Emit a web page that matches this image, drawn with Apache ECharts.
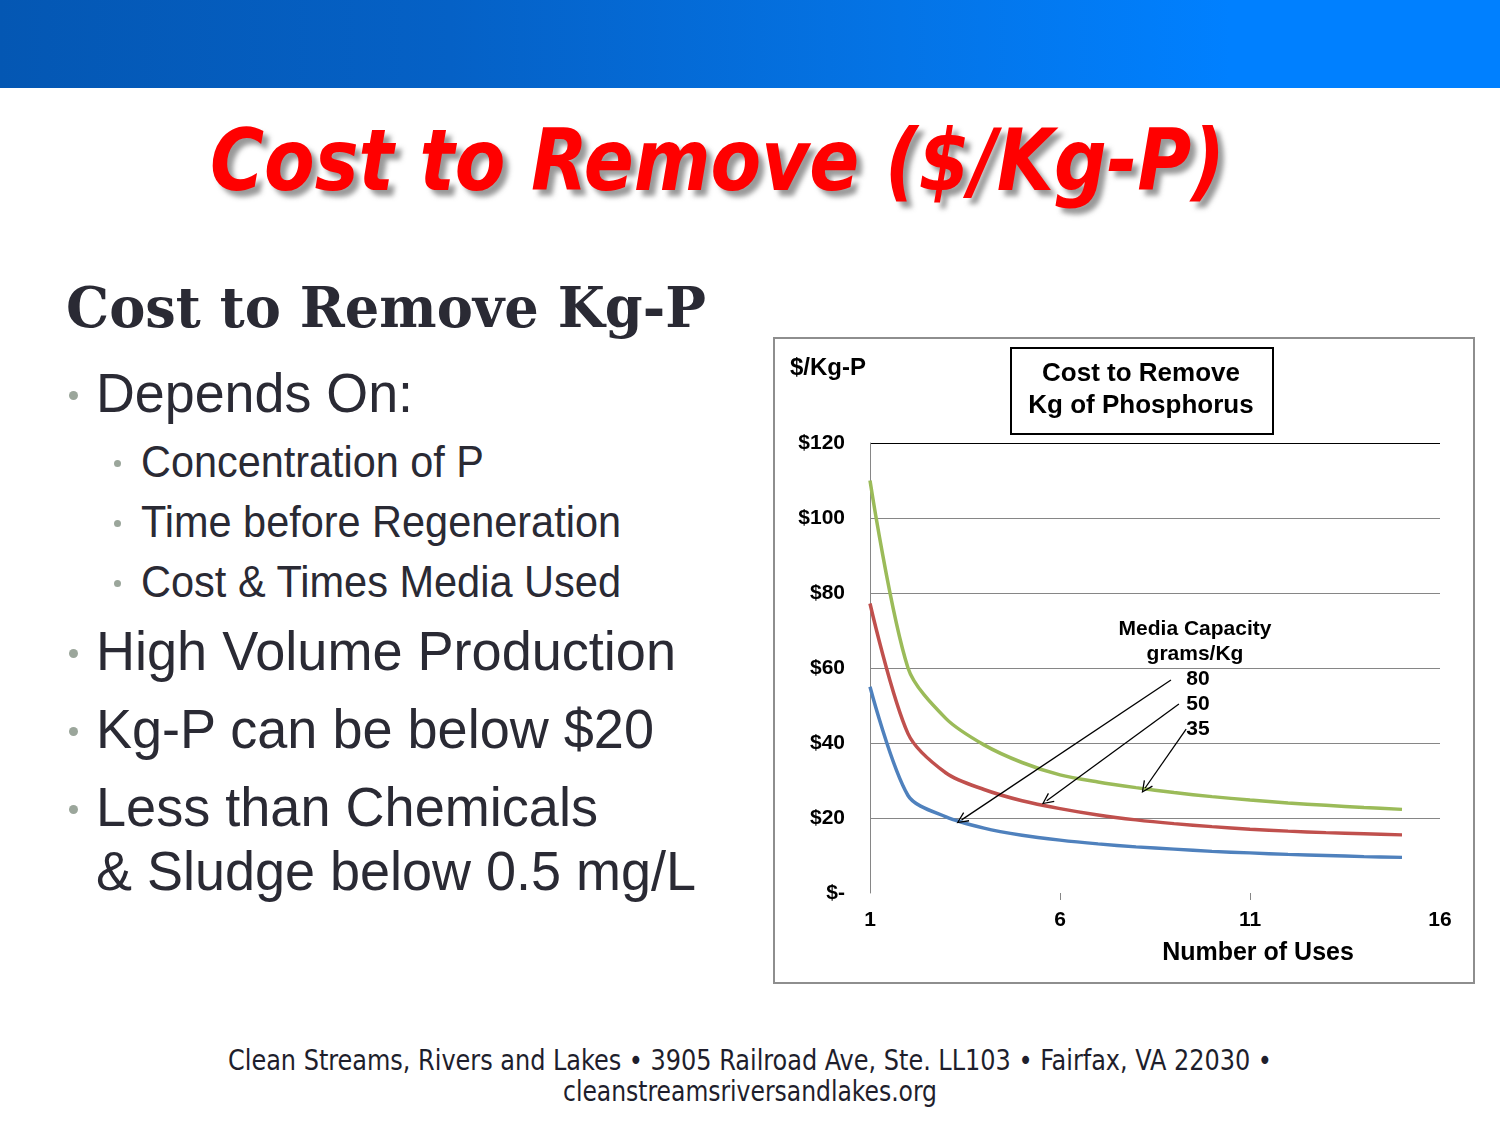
<!DOCTYPE html>
<html><head><meta charset="utf-8">
<script src="https://cdn.jsdelivr.net/npm/echarts@6/dist/echarts.min.js"></script>
<style>
html,body{margin:0;padding:0;background:#fff;width:1500px;height:1125px;overflow:hidden;position:relative}
.t{position:absolute;white-space:nowrap;line-height:1.2;transform-origin:0 0;margin:0;padding:0}
.dot{position:absolute;border-radius:50%;background:#9ba69b}
#bar{position:absolute;left:0;top:0;width:1500px;height:88px;background:linear-gradient(to right,#0457b3 0%,#0561c6 30%,#0474e6 60%,#0080ff 82%,#0080ff 100%)}
#frame{position:absolute;left:773px;top:337px;width:702px;height:647px;border:2px solid #8e8e8e;box-sizing:border-box}
#chart{position:absolute;left:775px;top:339px;width:698px;height:643px}
</style></head><body>
<div id="bar"></div>
<div id="frame"></div>
<div id="chart"></div>
<script>
// ---------- data ----------
const uses = [1,2,3,4,5,6,7,8,9,10,11,12,13,14,15];
const cap80 = [55, 26, 20.3, 17.3, 15.4, 14.1, 13.1, 12.3, 11.7, 11.1, 10.7, 10.3, 10.0, 9.7, 9.5];
const cap50 = [77.2, 42.5, 32, 27.6, 24.6, 22.5, 20.8, 19.5, 18.5, 17.7, 17.0, 16.5, 16.1, 15.8, 15.5];
const cap35 = [110, 60, 46.5, 39.5, 34.8, 31.5, 29.6, 28.1, 26.8, 25.7, 24.8, 24.0, 23.4, 22.8, 22.3];
const capacityLabels = ['80', '50', '35'];
const xTickValues = [1, 6, 11, 16];
const xMinorTicks = [6, 11];
const yMin = 0, yMax = 120, yStep = 20;
// arrow annotations (data coords): start near label, end on the curve
const arrow80 = [[8.92, 56.8], [3.41, 19.5]];
const arrow50 = [[9.13, 50.4], [5.65, 24.6]];
const arrow35 = [[9.32, 43.7], [8.24, 28.0]];

const slideTitle = 'Cost to Remove ($/Kg-P)';
const subTitle = 'Cost to Remove Kg-P';
const mainBullets = ['Depends On:', 'High Volume Production', 'Kg-P can be below $20', 'Less than Chemicals'];
const continuation = '& Sludge below 0.5 mg/L';
const subBullets = ['Concentration of P', 'Time before Regeneration', 'Cost & Times Media Used'];
const footer1 = 'Clean Streams, Rivers and Lakes \u2022 3905 Railroad Ave, Ste. LL103 \u2022 Fairfax, VA 22030 \u2022';
const footer2 = 'cleanstreamsriversandlakes.org';

// ---------- slide text ----------
function put(txt, o) {
  const d = document.createElement('div');
  d.className = 't';
  d.style.font = (o.style || 'normal') + ' ' + (o.weight || 'normal') + ' ' + o.size + 'px ' + o.font;
  d.style.color = o.color || '#000';
  if (o.shadow) d.style.textShadow = o.shadow;
  const sp = document.createElement('span');
  sp.textContent = txt;
  const mk = document.createElement('i');
  mk.style.cssText = 'display:inline-block;width:0;height:0;vertical-align:baseline';
  d.appendChild(sp); d.appendChild(mk);
  d.style.left = '0px'; d.style.top = '0px';
  document.body.appendChild(d);
  const w = sp.getBoundingClientRect().width;
  const baseOff = mk.offsetTop;
  const s = o.w ? o.w / w : 1;
  d.style.transform = 'scaleX(' + s + ')';
  d.style.left = o.x + 'px';
  d.style.top = (o.base - baseOff) + 'px';
}
function dot(cx, cy, r) {
  const d = document.createElement('div');
  d.className = 'dot';
  d.style.left = (cx - r) + 'px'; d.style.top = (cy - r) + 'px';
  d.style.width = d.style.height = (2 * r) + 'px';
  document.body.appendChild(d);
}
const SANS = '"Liberation Sans", Arial, sans-serif';
const ink = '#2a2a34';
put(slideTitle, {x: 210, w: 1015, base: 190, size: 85, font: '"DejaVu Sans Condensed","DejaVu Sans",sans-serif', weight: 'bold', style: 'italic', color: '#ff0000', shadow: '6px 6px 5px rgba(70,70,70,0.55)'});
put(subTitle, {x: 66, w: 640, base: 327, size: 56, font: '"DejaVu Serif", serif', weight: 'bold', color: ink});
const mainW = [317, 580, 558, 502];
const mainBase = [412, 670, 748, 826];
mainBullets.forEach((t, i) => { put(t, {x: 96, w: mainW[i], base: mainBase[i], size: 56, font: SANS, color: ink}); dot(73, mainBase[i] - 17, 4.5); });
put(continuation, {x: 96, w: 600, base: 890, size: 56, font: SANS, color: ink});
const subW = [343, 480, 480];
const subBase = [477, 537, 597];
subBullets.forEach((t, i) => { put(t, {x: 141, w: subW[i], base: subBase[i], size: 45, font: SANS, color: ink}); dot(117, subBase[i] - 14, 3.5); });
put(footer1, {x: 228, w: 1044, base: 1070, size: 28, font: '"DejaVu Sans Condensed","DejaVu Sans",sans-serif', color: '#1e1e2c'});
put(footer2, {x: 563, w: 374, base: 1101, size: 28, font: '"DejaVu Sans Condensed","DejaVu Sans",sans-serif', color: '#1e1e2c'});

// ---------- chart ----------
const chart = echarts.init(document.getElementById('chart'), null, {renderer: 'canvas'});
const pair = arr => uses.map((u, i) => [u, arr[i]]);
const chevron = 'path://M5,0 L10,11 L8.9,11.5 L5,2.6 L1.1,11.5 L0,11 Z';
const arrowLine = a => [{coord: a[0], symbol: 'none'}, {coord: a[1], symbol: chevron, symbolSize: [11, 12]}];
const BOLD = {fontFamily: SANS, fontWeight: 'bold', color: '#000'};
const gridC = '#868686';
const splitColors = [];
for (let v = yMin; v <= yMax; v += yStep) splitColors.push(v === yMin ? 'rgba(0,0,0,0)' : (v === yMax ? '#000' : gridC));
const SM = 0.3;

chart.setOption({
  animation: false,
  grid: {left: 95, top: 104, width: 570, height: 450, containLabel: false},
  xAxis: {
    type: 'value', min: 1, max: 16,
    axisLine: {show: false},
    axisTick: {show: true, customValues: xMinorTicks, length: 7, lineStyle: {color: gridC, width: 1}},
    axisLabel: {customValues: xTickValues, margin: 17, ...BOLD, fontSize: 21},
    splitLine: {show: false}
  },
  yAxis: {
    type: 'value', min: yMin, max: yMax, interval: yStep,
    axisLine: {show: true, lineStyle: {color: gridC, width: 1}},
    axisTick: {show: false},
    axisLabel: {margin: 25, ...BOLD, fontSize: 21, formatter: v => v === 0 ? '$-' : '$' + v},
    splitLine: {show: true, lineStyle: {color: splitColors, width: 1}}
  },
  series: [
    {name: '80', type: 'line', data: pair(cap80), smooth: SM, showSymbol: false, lineStyle: {color: '#4f81bd', width: 3.5}, z: 3},
    {name: '50', type: 'line', data: pair(cap50), smooth: SM, showSymbol: false, lineStyle: {color: '#c0504d', width: 3.5}, z: 3},
    {name: '35', type: 'line', data: pair(cap35), smooth: SM, showSymbol: false, lineStyle: {color: '#9bbb59', width: 3.5}, z: 3,
      markLine: {silent: true, animation: false, label: {show: false},
        lineStyle: {color: '#000', width: 1.3, type: 'solid'},
        emphasis: {disabled: true},
        data: [arrowLine(arrow80), arrowLine(arrow50), arrowLine(arrow35)]}}
  ],
  graphic: [
    {type: 'text', left: 15, top: 17, style: {text: '$/Kg-P', font: 'bold 24px ' + SANS, fill: '#000'}},
    {type: 'rect', shape: {x: 236, y: 9, width: 262, height: 86}, style: {fill: '#fff', stroke: '#000', lineWidth: 2}},
    {type: 'text', x: 366, y: 51, style: {text: 'Cost to Remove\nKg of Phosphorus', font: 'bold 26px ' + SANS, fill: '#000', align: 'center', verticalAlign: 'middle', lineHeight: 32}},
    {type: 'text', x: 420, y: 303, style: {text: 'Media Capacity\ngrams/Kg', font: 'bold 21px ' + SANS, fill: '#000', align: 'center', verticalAlign: 'middle', lineHeight: 25}},
    {type: 'text', x: 423, y: 365, style: {text: capacityLabels.join('\n'), font: 'bold 21px ' + SANS, fill: '#000', align: 'center', verticalAlign: 'middle', lineHeight: 25}},
    {type: 'text', x: 483, y: 614, style: {text: 'Number of Uses', font: 'bold 25px ' + SANS, fill: '#000', align: 'center', verticalAlign: 'middle'}}
  ]
});
</script>
</body></html>
